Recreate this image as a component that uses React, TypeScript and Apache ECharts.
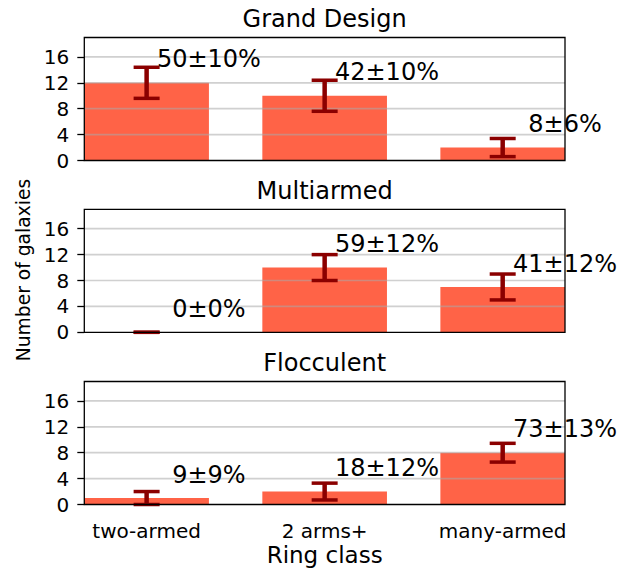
import React, { useEffect, useRef } from 'react';
import * as echarts from 'echarts';

// Ring classes along the x axis and one panel per spiral-arm class
const CATEGORIES = ['two-armed', '2 arms+', 'many-armed'];
const PANEL_TITLES = ['Grand Design', 'Multiarmed', 'Flocculent'];

// Grand Design: galaxy counts, 1-sigma count errors, fractions (%)
const GRAND_DESIGN_COUNTS = [12, 10, 2];
const GRAND_DESIGN_ERRORS = [2.4, 2.4, 1.4];
const GRAND_DESIGN_PERCENT = [50, 42, 8];
const GRAND_DESIGN_PERCENT_ERR = [10, 10, 6];

// Multiarmed
const MULTIARMED_COUNTS = [0, 10, 7];
const MULTIARMED_ERRORS = [0, 2.0, 2.0];
const MULTIARMED_PERCENT = [0, 59, 41];
const MULTIARMED_PERCENT_ERR = [0, 12, 12];

// Flocculent
const FLOCCULENT_COUNTS = [1, 2, 8];
const FLOCCULENT_ERRORS = [1.0, 1.3, 1.45];
const FLOCCULENT_PERCENT = [9, 18, 73];
const FLOCCULENT_PERCENT_ERR = [9, 12, 13];

const Y_TICKS = [0, 4, 8, 12, 16];
const Y_MAX = 19;
const X_MIN = -0.35;
const X_MAX = 2.35;
const BAR_WIDTH = 0.7;

const PANELS = [
  { counts: GRAND_DESIGN_COUNTS, errors: GRAND_DESIGN_ERRORS, pct: GRAND_DESIGN_PERCENT, pctErr: GRAND_DESIGN_PERCENT_ERR },
  { counts: MULTIARMED_COUNTS, errors: MULTIARMED_ERRORS, pct: MULTIARMED_PERCENT, pctErr: MULTIARMED_PERCENT_ERR },
  { counts: FLOCCULENT_COUNTS, errors: FLOCCULENT_ERRORS, pct: FLOCCULENT_PERCENT, pctErr: FLOCCULENT_PERCENT_ERR },
];

// layout (pixels)
const GRID_LEFT = 84.3;
const GRID_WIDTH = 480.7;
const GRID_TOPS = [37.5, 209.3, 381.5];
const GRID_HEIGHT = 123;
const TITLE_Y = [18.7, 190.5, 362.6];

const FONT = '"DejaVu Sans", "Liberation Sans", sans-serif';
const BAR_COLOR = '#FF6347';
const ERR_COLOR = '#8B0000';
const CAP_HALF = 13;

export default function App() {
  const ref = useRef<HTMLDivElement>(null);

  useEffect(() => {
    if (!ref.current) return;
    const chart = echarts.init(ref.current, null, { renderer: 'svg' });

    const grids = GRID_TOPS.map((top) => ({
      left: GRID_LEFT,
      width: GRID_WIDTH,
      top,
      height: GRID_HEIGHT,
      show: false,
    }));

    const xAxes = PANELS.map((_, k) => ({
      type: 'value',
      gridIndex: k,
      min: X_MIN,
      max: X_MAX,
      position: 'bottom',
      axisLine: { show: false, onZero: false },
      axisTick: { show: false },
      splitLine: { show: false },
      axisLabel: {
        show: k === PANELS.length - 1,
        customValues: [0, 1, 2],
        formatter: (v: number) => CATEGORIES[Math.round(v)] ?? '',
        fontFamily: FONT,
        fontSize: 20,
        lineHeight: 18,
        color: '#000',
        margin: 17,
      },
    }));

    const yAxes = PANELS.map((_, k) => ({
      type: 'value',
      gridIndex: k,
      min: 0,
      max: Y_MAX,
      position: 'left',
      axisLine: { show: false, onZero: false },
      splitLine: { show: false },
      axisTick: {
        show: true,
        customValues: Y_TICKS,
        length: 7,
        lineStyle: { color: '#000', width: 1.3 },
      },
      axisLabel: {
        customValues: Y_TICKS,
        fontFamily: FONT,
        fontSize: 20,
        color: '#000',
        margin: 15,
      },
    }));

    const series: any[] = [];
    PANELS.forEach((p, k) => {
      // bars
      series.push({
        type: 'custom',
        xAxisIndex: k,
        yAxisIndex: k,
        z: 2,
        data: p.counts.map((c, i) => [i, c]),
        renderItem: (_params: any, api: any) => {
          const x = api.value(0);
          const base = api.coord([x, 0]);
          const top = api.coord([x, api.value(1)]);
          const w = api.size([BAR_WIDTH, 0])[0];
          return {
            type: 'rect',
            shape: { x: base[0] - w / 2, y: top[1], width: w, height: base[1] - top[1] },
            style: { fill: BAR_COLOR },
          };
        },
      });
      // horizontal grid lines, drawn over the bars
      series.push({
        type: 'custom',
        xAxisIndex: k,
        yAxisIndex: k,
        z: 3,
        silent: true,
        data: Y_TICKS.filter((v) => v > 0).map((v) => [0, v]),
        renderItem: (_params: any, api: any) => {
          const v = api.value(1);
          const a = api.coord([X_MIN, v]);
          const b = api.coord([X_MAX, v]);
          return {
            type: 'line',
            shape: { x1: a[0], y1: a[1], x2: b[0], y2: b[1] },
            style: { stroke: 'rgba(170,170,170,0.55)', lineWidth: 1.7 },
          };
        },
      });
      // error bars
      series.push({
        type: 'custom',
        xAxisIndex: k,
        yAxisIndex: k,
        z: 4,
        data: p.counts.map((c, i) => [i, c, p.errors[i]]),
        renderItem: (_params: any, api: any) => {
          const x = api.value(0);
          const c = api.value(1);
          const e = api.value(2);
          const hi = api.coord([x, c + e]);
          const lo = api.coord([x, c - e]);
          const st = { stroke: ERR_COLOR, lineWidth: 3.5 };
          return {
            type: 'group',
            children: [
              { type: 'line', shape: { x1: hi[0], y1: hi[1], x2: lo[0], y2: lo[1] }, style: { ...st, lineWidth: 4.5 } },
              { type: 'line', shape: { x1: hi[0] - CAP_HALF, y1: hi[1], x2: hi[0] + CAP_HALF, y2: hi[1] }, style: st },
              { type: 'line', shape: { x1: lo[0] - CAP_HALF, y1: lo[1], x2: lo[0] + CAP_HALF, y2: lo[1] }, style: st },
            ],
          };
        },
      });
      // fraction labels, centred on each bar's right edge
      series.push({
        type: 'custom',
        xAxisIndex: k,
        yAxisIndex: k,
        z: 5,
        data: p.counts.map((c, i) => [i, c, p.pct[i], p.pctErr[i]]),
        renderItem: (_params: any, api: any) => {
          const x = api.value(0);
          const pt = api.coord([x + BAR_WIDTH / 2, api.value(1) + 2.5]);
          return {
            type: 'text',
            x: pt[0],
            y: pt[1] - 7.2,
            style: {
              text: `${api.value(2)}±${api.value(3)}%`,
              fontFamily: FONT,
              fontSize: 24,
              fill: '#000',
              align: 'center',
              verticalAlign: 'middle',
            },
          };
        },
      });
    });

    const graphic: any[] = [];
    PANEL_TITLES.forEach((t, k) => {
      graphic.push({
        type: 'text',
        x: GRID_LEFT + GRID_WIDTH / 2,
        y: TITLE_Y[k],
        style: { text: t, fontFamily: FONT, fontSize: 24, fill: '#000', align: 'center', verticalAlign: 'middle' },
      });
      graphic.push({
        type: 'rect',
        z: 100,
        shape: { x: GRID_LEFT, y: GRID_TOPS[k], width: GRID_WIDTH, height: GRID_HEIGHT },
        style: { fill: 'none', stroke: '#000', lineWidth: 1.3 },
      });
    });
    graphic.push({
      type: 'text',
      x: GRID_LEFT + GRID_WIDTH / 2,
      y: 555,
      style: {
        text: 'Ring class',
        fontFamily: FONT,
        fontSize: 23,
        lineHeight: 20,
        fill: '#000',
        align: 'center',
        verticalAlign: 'middle',
      },
    });
    graphic.push({
      type: 'text',
      x: 23.7,
      y: 270,
      rotation: Math.PI / 2,
      style: { text: 'Number of galaxies', fontFamily: FONT, fontSize: 18.7, fill: '#000', align: 'center', verticalAlign: 'middle' },
    });

    chart.setOption({
      animation: false,
      backgroundColor: '#fff',
      grid: grids,
      xAxis: xAxes,
      yAxis: yAxes,
      series,
      graphic,
    });

    return () => chart.dispose();
  }, []);

  return <div ref={ref} style={{ position: 'fixed', left: 0, top: 0, width: 630, height: 572 }} />;
}
